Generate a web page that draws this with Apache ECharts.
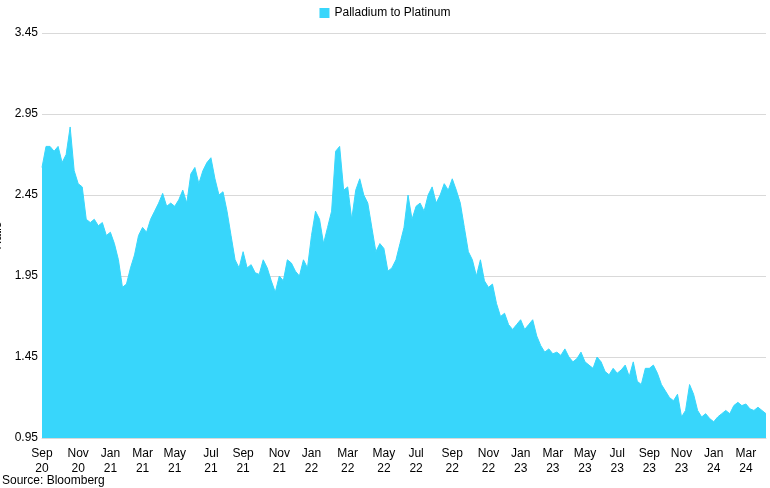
<!DOCTYPE html>
<html>
<head>
<meta charset="utf-8">
<script src="https://cdn.jsdelivr.net/npm/echarts@6/dist/echarts.min.js"></script>
<style>html,body{margin:0;padding:0;background:#fff}#main{width:770px;height:488px}</style>
</head>
<body>
<div id="main"></div>
<script>
// month labels and weekly ratio readings per month
var months = ['Sep 20','Oct 20','Nov 20','Dec 20','Jan 21','Feb 21','Mar 21','Apr 21','May 21','Jun 21','Jul 21','Aug 21',
  'Sep 21','Oct 21','Nov 21','Dec 21','Jan 22','Feb 22','Mar 22','Apr 22','May 22','Jun 22','Jul 22','Aug 22',
  'Sep 22','Oct 22','Nov 22','Dec 22','Jan 23','Feb 23','Mar 23','Apr 23','May 23','Jun 23','Jul 23','Aug 23',
  'Sep 23','Oct 23','Nov 23','Dec 23','Jan 24','Feb 24','Mar 24','Apr 24'];
var weekly = [
  [2.62,2.75,2.75,2.72],[2.75,2.65,2.70,2.87,2.60],[2.52,2.50,2.30,2.28],[2.30,2.26,2.28,2.20],
  [2.22,2.15,2.05,1.88],[1.90,2.00,2.08,2.20],[2.25,2.22,2.30,2.35],[2.40,2.46,2.38,2.40],
  [2.38,2.42,2.48,2.40],[2.58,2.62,2.52,2.60,2.65],[2.68,2.55,2.45,2.47],[2.35,2.20,2.05,2.00],
  [2.10,2.00,2.02,1.97],[1.96,2.05,2.00,1.92,1.85],[1.95,1.92,2.05,2.03],[1.98,1.95,2.05,2.00],
  [2.20,2.35,2.30,2.15,2.25],[2.35,2.72,2.75,2.48],[2.50,2.30,2.48,2.55],[2.45,2.40,2.25,2.10,2.15],
  [2.12,1.98,2.00,2.05],[2.15,2.25,2.45,2.30],[2.38,2.40,2.35,2.45,2.50],[2.40,2.45,2.52,2.48],
  [2.55,2.48,2.40,2.25],[2.10,2.05,1.95,2.05,1.92],[1.88,1.90,1.78,1.70],[1.72,1.65,1.62,1.65],
  [1.68,1.62,1.65,1.68],[1.58,1.52,1.48,1.50],[1.47,1.48,1.46,1.50],[1.45,1.42,1.44,1.48],
  [1.42,1.40,1.38,1.45],[1.42,1.36,1.34,1.38],[1.35,1.37,1.40,1.33],[1.42,1.30,1.28,1.38],
  [1.38,1.40,1.35,1.28],[1.24,1.20,1.18,1.22],[1.08,1.12,1.28,1.22],[1.12,1.08,1.10,1.07],
  [1.05,1.08,1.10,1.12],[1.10,1.15,1.17,1.15],[1.16,1.13,1.12,1.14],[1.12,1.10]
];
var labelMonths = ['Sep','Nov','Jan','Mar','May','Jul'];

var cats = [], data = [];
for (var m = 0; m < months.length; m++) {
  for (var w = 0; w < weekly[m].length; w++) {
    cats.push(months[m] + '|' + w);
    data.push(weekly[m][w]);
  }
}

var myChart = echarts.init(document.getElementById('main'));
var font = 'Liberation Sans, Arial, sans-serif';
var option = {
  animation: false,
  textStyle: {fontFamily: font},
  legend: {
    top: 2, left: 'center', icon: 'rect', itemWidth: 10, itemHeight: 10, itemGap: 4,
    textStyle: {fontSize: 12, color: '#000', fontFamily: font},
    data: ['Palladium to Platinum']
  },
  graphic: [{type: 'text', left: 2, bottom: 1, style: {text: 'Source: Bloomberg', fontSize: 12, fill: '#000', fontFamily: font}}],
  grid: {left: 42, right: 4, top: 33, bottom: 50, containLabel: false, outerBoundsMode: 'none'},
  xAxis: {
    type: 'category', data: cats, boundaryGap: false,
    axisLine: {lineStyle: {color: '#d9d9d9'}},
    axisTick: {show: false},
    axisLabel: {
      color: '#000', fontSize: 12, lineHeight: 15,
      interval: function (i, v) {
        var p = v.split('|');
        return p[1] === '0' && labelMonths.indexOf(p[0].split(' ')[0]) >= 0;
      },
      formatter: function (v) { var p = v.split('|')[0].split(' '); return p[0] + '\n' + p[1]; }
    }
  },
  yAxis: {
    type: 'value', min: 0.95, max: 3.45, interval: 0.5,
    name: 'Ratio', nameLocation: 'middle', nameGap: 32, nameRotate: 90,
    nameTextStyle: {color: '#000', fontSize: 12},
    axisLine: {show: false}, axisTick: {show: false},
    axisLabel: {color: '#000', fontSize: 12, margin: 4, formatter: function (v) { return v.toFixed(2); }},
    splitLine: {lineStyle: {color: '#d9d9d9'}}
  },
  series: [{
    name: 'Palladium to Platinum', type: 'line', data: data,
    symbol: 'none', color: '#38d6fb',
    lineStyle: {width: 1, color: '#38d6fb'},
    areaStyle: {color: '#38d6fb', opacity: 1}
  }]
};
myChart.setOption(option, true);
</script>
</body>
</html>
